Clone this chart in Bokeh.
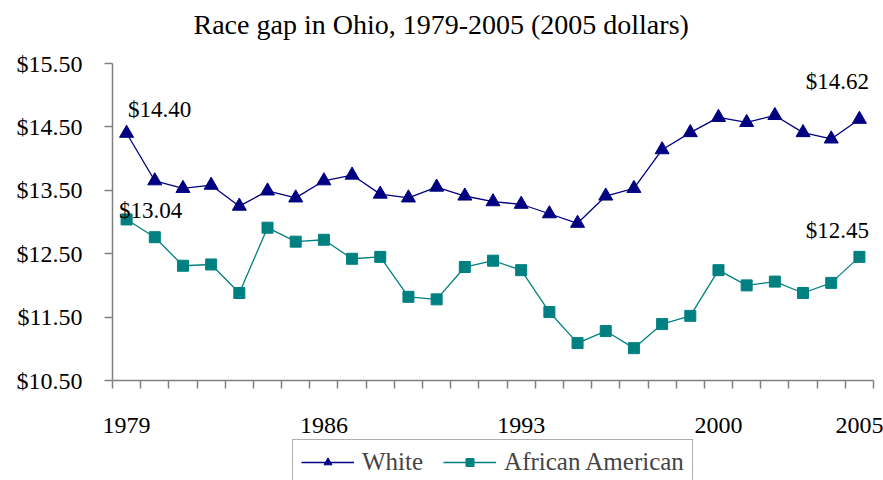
from bokeh.plotting import figure
from bokeh.models import FixedTicker, NumeralTickFormatter, Label, Legend, LegendItem, Range1d
from bokeh.embed import file_html
from bokeh.resources import INLINE

title_text = "Race gap in Ohio, 1979-2005 (2005 dollars)"
years = list(range(1979, 2006))
white = [14.40, 13.65, 13.53, 13.58, 13.25, 13.49, 13.38, 13.65, 13.74, 13.44,
         13.38, 13.55, 13.41, 13.32, 13.28, 13.13, 12.98, 13.41, 13.53, 14.14,
         14.41, 14.65, 14.57, 14.68, 14.41, 14.31, 14.62]
african_american = [13.04, 12.76, 12.31, 12.33, 11.88, 12.91, 12.69, 12.72, 12.42, 12.45,
                    11.82, 11.78, 12.29, 12.39, 12.24, 11.58, 11.09, 11.28, 11.01, 11.39,
                    11.52, 12.24, 12.00, 12.06, 11.88, 12.04, 12.45]
x_tick_labels = [1979, 1986, 1993, 2000, 2005]
y_ticks = [10.5, 11.5, 12.5, 13.5, 14.5, 15.5]
series_names = ["White", "African American"]

FONT = "Liberation Serif"
WHITE_C = "#000080"
AA_C = "#008080"
AXIS_C = "#808080"

# Layout (pixels). The frame fills the canvas below the title; the axes are
# pinned at the edges of the data area so the tick labels and legend fit.
CANVAS_W, CANVAS_H = 883, 480
FRAME_TOP = 45
AXIS_LEFT, AXIS_RIGHT = 112, 873
AXIS_TOP, AXIS_BOTTOM = 63, 380

x_min, x_max = years[0] - 0.5, years[-1] + 0.5
y_min, y_max = y_ticks[0], y_ticks[-1]
px_x = (AXIS_RIGHT - AXIS_LEFT) / (x_max - x_min)
px_y = (AXIS_BOTTOM - AXIS_TOP) / (y_max - y_min)

p = figure(width=CANVAS_W, height=CANVAS_H, output_backend="svg", toolbar_location=None,
           x_range=Range1d(x_min - AXIS_LEFT / px_x, x_max + (CANVAS_W - AXIS_RIGHT) / px_x),
           y_range=Range1d(y_min - (CANVAS_H - AXIS_BOTTOM) / px_y,
                           y_max + (AXIS_TOP - FRAME_TOP) / px_y),
           min_border_left=0, min_border_right=0, min_border_top=FRAME_TOP, min_border_bottom=0)
p.outline_line_color = None
p.xgrid.visible = False
p.ygrid.visible = False
p.background_fill_color = "white"
p.border_fill_color = "white"

p.title.text = title_text
p.title.text_font = FONT
p.title.text_font_size = "28px"
p.title.text_font_style = "normal"
p.title.text_color = "black"
p.title.align = "left"
p.title.offset = 193
p.title.standoff = 8
p.title.vertical_align = "top"

# x axis
boundaries = [y - 0.5 for y in years] + [years[-1] + 0.5]
p.xaxis.fixed_location = y_min
p.xaxis.bounds = (x_min, x_max)
p.xaxis.ticker = FixedTicker(ticks=x_tick_labels, minor_ticks=boundaries)
p.xaxis.major_tick_line_color = None
p.xaxis.major_tick_out = 0
p.xaxis.major_tick_in = 0
p.xaxis.minor_tick_out = 8
p.xaxis.minor_tick_in = 0
p.xaxis.minor_tick_line_color = AXIS_C
p.xaxis.minor_tick_line_width = 1.5
p.xaxis.axis_line_color = AXIS_C
p.xaxis.axis_line_width = 1.5
p.xaxis.major_label_standoff = 29
p.xaxis.major_label_text_font = FONT
p.xaxis.major_label_text_font_size = "24px"
p.xaxis.major_label_text_color = "black"

# y axis
p.yaxis.fixed_location = x_min
p.yaxis.bounds = (y_min, y_max)
p.yaxis.ticker = FixedTicker(ticks=y_ticks, minor_ticks=[])
p.yaxis.formatter = NumeralTickFormatter(format="$0.00")
p.yaxis.major_tick_out = 8
p.yaxis.major_tick_in = 0
p.yaxis.major_tick_line_color = AXIS_C
p.yaxis.major_tick_line_width = 1.5
p.yaxis.axis_line_color = AXIS_C
p.yaxis.axis_line_width = 1.5
p.yaxis.major_label_standoff = 22
p.yaxis.major_label_text_font = FONT
p.yaxis.major_label_text_font_size = "24px"
p.yaxis.major_label_text_color = "black"

wl = p.line(years, white, line_color=WHITE_C, line_width=1.3)
ws = p.scatter(years, white, marker="triangle", size=14, fill_color=WHITE_C, line_color=WHITE_C)
al = p.line(years, african_american, line_color=AA_C, line_width=1.3)
as_ = p.scatter(years, african_american, marker="square", size=11, fill_color=AA_C, line_color=AA_C)

legend = Legend(items=[LegendItem(label=series_names[0], renderers=[wl, ws]),
                       LegendItem(label=series_names[1], renderers=[al, as_])],
                orientation="horizontal", location=(292, -5), margin=0,
                label_text_font=FONT, label_text_font_size="25px",
                glyph_width=53, glyph_height=20, label_standoff=8, spacing=20,
                padding=8, border_line_color="#606060", border_line_width=1.2,
                background_fill_alpha=1.0)
p.add_layout(legend, "center")

def add_value_label(x, y, dx, dy):
    p.add_layout(Label(x=x, y=y, x_offset=dx, y_offset=dy, text=f"${y:.2f}",
                       text_font=FONT, text_font_size="23px", text_color="black",
                       text_align="center", text_baseline="middle"))

add_value_label(years[0], white[0], 33, 24)
add_value_label(years[0], african_american[0], 24, 9)
add_value_label(years[-1], white[-1], -22, 38)
add_value_label(years[-1], african_american[-1], -22, 26)

open("out.html", "w").write(file_html(p, INLINE))
